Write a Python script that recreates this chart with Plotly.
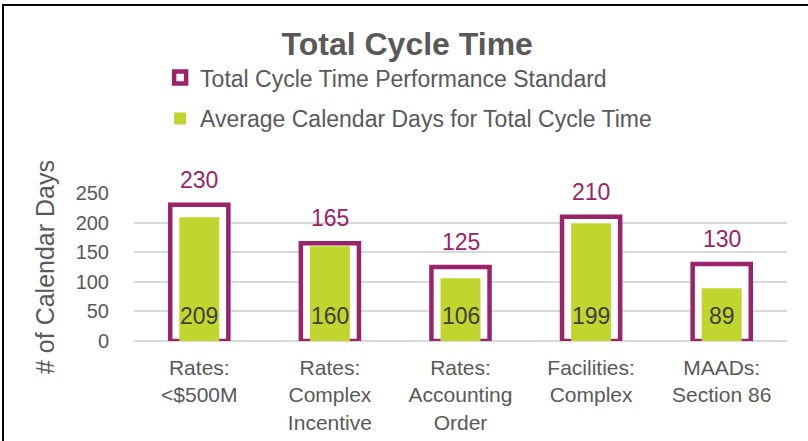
import plotly.graph_objects as go

categories = ["Rates:<br><$500M", "Rates:<br>Complex<br>Incentive", "Rates:<br>Accounting<br>Order",
              "Facilities:<br>Complex", "MAADs:<br>Section 86"]
standard_days = [230, 165, 125, 210, 130]
average_days = [209, 160, 106, 199, 89]
y_ticks = [0, 50, 100, 150, 200, 250]

PURPLE = "#9A2369"
GREEN = "#C0D62F"
GREY = "#595959"
FONT = "Liberation Sans, Arial, sans-serif"

fig = go.Figure()
fig.add_trace(go.Bar(
    x=categories, y=standard_days, name="Total Cycle Time Performance Standard",
    width=0.445, marker=dict(color="white", line=dict(color=PURPLE, width=4.5)),
    legendgroup="a", hoverinfo="skip"))
fig.add_trace(go.Bar(
    x=categories, y=average_days, name="Average Calendar Days for Total Cycle Time",
    width=0.306, marker=dict(color=GREEN, line=dict(width=0)),
    legendgroup="b", hoverinfo="skip"))

for c, v in zip(categories, standard_days):
    fig.add_annotation(x=c, y=v, text=str(v), showarrow=False, yanchor="middle",
                       yshift=25, font=dict(family=FONT, size=23, color=PURPLE))
for c, v in zip(categories, average_days):
    fig.add_annotation(x=c, y=0, text=str(v), showarrow=False, yanchor="middle",
                       yshift=25, font=dict(family=FONT, size=23, color="#404040"))

fig.update_layout(
    width=808, height=441,
    margin=dict(l=134, r=21, t=193, b=100, autoexpand=False),
    paper_bgcolor="white", plot_bgcolor="white",
    barmode="overlay",
    font=dict(family=FONT, color=GREY),
    title=dict(text="<b>Total Cycle Time</b>", x=0.504, xref="container", xanchor="center",
               y=1 - 44 / 441, yref="container", yanchor="middle",
               font=dict(family=FONT, size=32, color=GREY)),
    legend=dict(x=0.04, xanchor="left", y=1.925, yanchor="top", orientation="v",
                font=dict(family=FONT, size=23, color=GREY), tracegroupgap=8,
                bgcolor="rgba(0,0,0,0)"),
    showlegend=True,
    shapes=[dict(type="rect", xref="paper", yref="paper",
                 x0=(3 - 134) / 653, x1=(830 - 134) / 653,
                 y0=(341 - 460) / 148, y1=(341 - 5) / 148,
                 line=dict(color="black", width=2), fillcolor="rgba(0,0,0,0)", layer="below")],
)
fig.update_xaxes(showgrid=False, showline=False, zeroline=False, ticks="", automargin=False,
                 tickfont=dict(family=FONT, size=21, color=GREY), ticklabelstandoff=12)
fig.update_yaxes(range=[0, 250], tickvals=y_ticks, showgrid=True, gridcolor="#D9D9D9", gridwidth=1.5,
                 zeroline=True, zerolinecolor="#D9D9D9", zerolinewidth=1.5, showline=False,
                 ticks="", ticklabelstandoff=24, automargin=False,
                 tickfont=dict(family=FONT, size=20, color=GREY),
                 title=dict(text="# of Calendar Days", standoff=13,
                            font=dict(family=FONT, size=25, color=GREY)))

fig.write_html("out.html", config={"displayModeBar": False},
               post_script="document.body.style.margin='0';document.body.style.overflow='hidden';")
